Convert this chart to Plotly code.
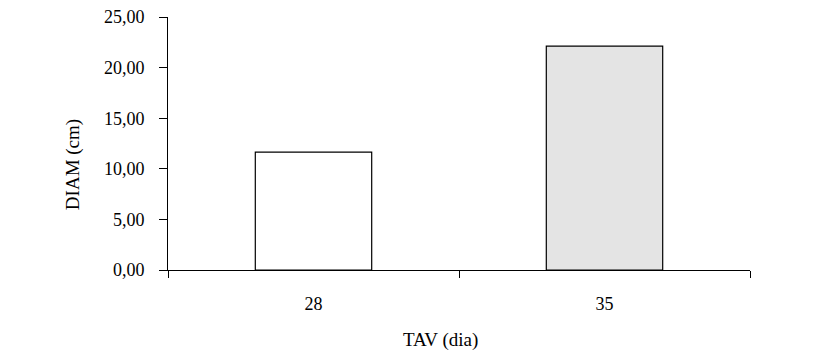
import plotly.graph_objects as go

categories = ["28", "35"]
diam = [11.65, 22.12]
fills = ["#ffffff", "#e4e4e4"]
y_ticks = [0, 5, 10, 15, 20, 25]
x_title = "TAV (dia)"
y_title = "DIAM (cm)"

fig = go.Figure(go.Bar(
    x=categories, y=diam, width=0.4,
    marker=dict(color=fills, line=dict(color="#000000", width=1.2)),
))

fam = "Liberation Serif, Times New Roman, serif"
tick_font = dict(family=fam, size=18, color="#000000")
title_font = dict(family=fam, size=19, color="#000000")

fig.update_layout(
    width=835, height=356,
    margin=dict(l=168, r=85, t=17, b=86),
    paper_bgcolor="white", plot_bgcolor="white",
    separators=",.",
    font=tick_font,
    showlegend=False,
    xaxis=dict(
        type="category", showline=True, linecolor="#000000", linewidth=1,
        ticks="outside", tickson="boundaries", ticklen=7, tickcolor="#000000",
        showgrid=False, ticklabelstandoff=17, tickfont=tick_font, automargin=False,
    ),
    yaxis=dict(
        range=[0, 25], tickvals=y_ticks, tickformat=".2f",
        showline=True, linecolor="#000000", linewidth=1,
        ticks="outside", ticklen=8, tickcolor="#000000",
        showgrid=False, zeroline=False, ticklabelstandoff=11, tickfont=tick_font,
        automargin=False,
    ),
    annotations=[
        dict(text=x_title, xref="paper", yref="paper", x=0.469, y=-0.277,
             showarrow=False, font=title_font, xanchor="center", yanchor="middle"),
        dict(text=y_title, xref="paper", yref="paper", x=-0.163, y=0.415,
             showarrow=False, font=title_font, textangle=-90,
             xanchor="center", yanchor="middle"),
    ],
)
fig.write_html(
    "out.html",
    config={"displayModeBar": False},
    post_script="document.body.style.margin='0';document.body.style.overflow='hidden';",
)
